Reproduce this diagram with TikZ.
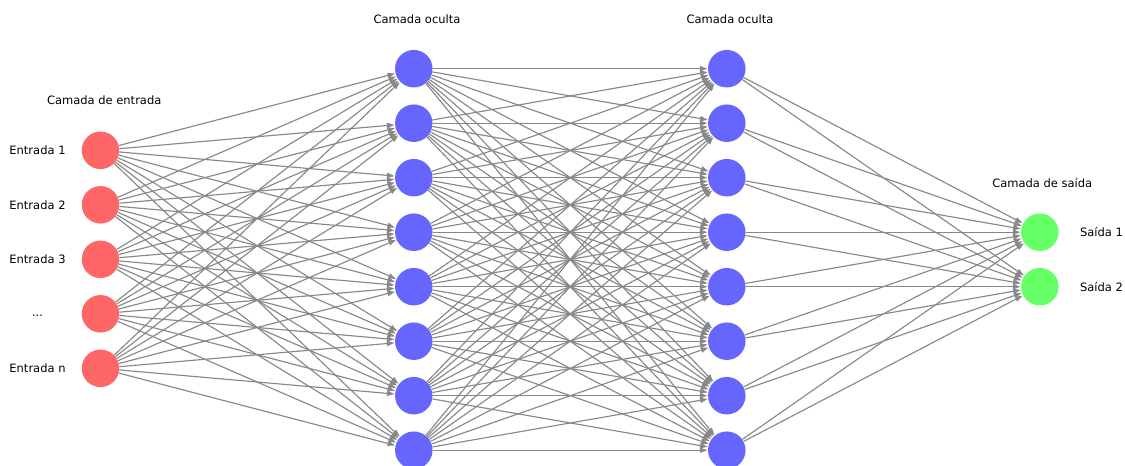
\documentclass[tikz,border=0pt]{standalone}
\usepackage{fontspec}
\setmainfont{DejaVu Sans}
\usetikzlibrary{arrows.meta}
\definecolor{inred}{HTML}{FF6666}
\definecolor{hidblue}{HTML}{6666FF}
\definecolor{outgreen}{HTML}{66FF66}
\definecolor{edgegray}{RGB}{136,136,136}
\begin{document}
\begin{tikzpicture}[x=1pt,y=-1pt,
  neuron/.style={circle,minimum size=37.5pt,inner sep=0pt,draw=none},
  inneuron/.style={neuron,fill=inred},
  hidneuron/.style={neuron,fill=hidblue},
  outneuron/.style={neuron,fill=outgreen},
  lbl/.style={font=\fontsize{11.5}{14}\selectfont,text=black,inner sep=0pt},
  link/.style={draw=edgegray,line width=1.15pt,-{Triangle[length=7.5pt,width=5.2pt]},shorten >=0.5pt}]
\useasboundingbox (0,0) rectangle (1125,466);

% layers of neurons
\foreach \k in {1,...,5}
  \node[inneuron] (i\k) at (100.5,{150.3+54.5*(\k-1)}) {};
\foreach \k in {1,...,8} {
  \node[hidneuron] (h\k) at (413.8,{68.7+54.5*(\k-1)}) {};
  \node[hidneuron] (g\k) at (726.8,{68.7+54.5*(\k-1)}) {};
}
\node[outneuron] (o1) at (1039.8,232.2) {};
\node[outneuron] (o2) at (1039.8,286.7) {};

% fully connected links between consecutive layers
\foreach \a in {1,...,5}
  \foreach \b in {1,...,8}
    \draw[link] (i\a) -- (h\b);
\foreach \a in {1,...,8}
  \foreach \b in {1,...,8}
    \draw[link] (h\a) -- (g\b);
\foreach \a in {1,...,8}
  \foreach \b in {1,2}
    \draw[link] (g\a) -- (o\b);

% layer titles
\node[lbl] (tin) at (104.2,100.5) {Camada de entrada};
\node[lbl] (th1) at (417,19) {Camada oculta};
\node[lbl] (th2) at (730,19) {Camada oculta};
\node[lbl] (tout) at (1042.3,183) {Camada de saída};

% neuron labels
\node[lbl] (li1) at (37.5,150.3) {Entrada 1};
\node[lbl] (li2) at (37.5,204.8) {Entrada 2};
\node[lbl] (li3) at (37.5,259.3) {Entrada 3};
\node[lbl] (li4) at (37.5,316) {...};
\node[lbl] (li5) at (37.5,368.3) {Entrada n};
\node[lbl] (lo1) at (1101.5,232.2) {Saída 1};
\node[lbl] (lo2) at (1101.5,286.7) {Saída 2};
\end{tikzpicture}
\end{document}
